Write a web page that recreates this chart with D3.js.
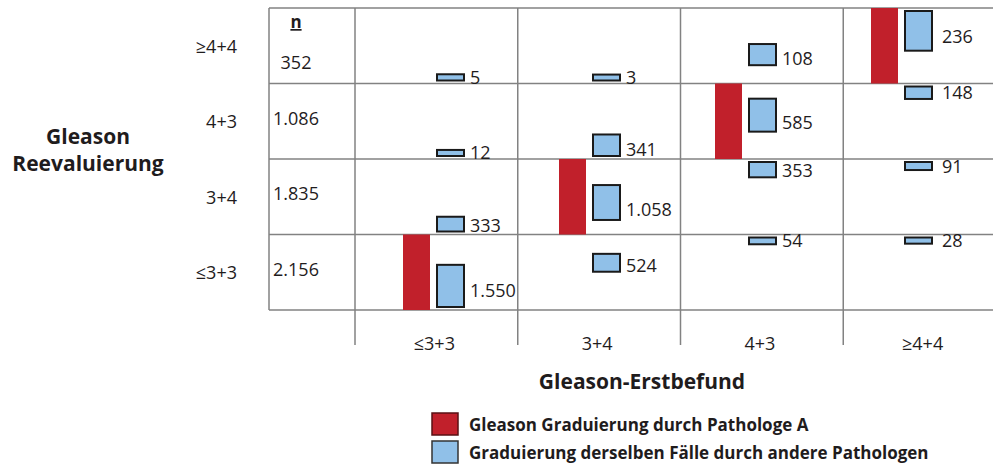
<!DOCTYPE html>
<html>
<head>
<meta charset="utf-8">
<script src="https://cdn.jsdelivr.net/npm/d3@7"></script>
<style>
  body { margin: 0; background: #fff; }
  text { font-family: "Open Sans", sans-serif; fill: #1f1c1d; }
</style>
</head>
<body>
<div id="chart"></div>
<script>
// Gleason categories, low to high
const categories = ["≤3+3", "3+4", "4+3", "≥4+4"];
// n per re-evaluation row (same order as categories)
const rowTotals = [2156, 1835, 1086, 352];
// counts[r][c]: r = Gleason Reevaluierung, c = Gleason-Erstbefund
const counts = [
  [1550, 524, 54, 28],
  [333, 1058, 353, 91],
  [12, 341, 585, 148],
  [5, 3, 108, 236]
];
const legendLabels = [
  "Gleason Graduierung durch Pathologe A",
  "Graduierung derselben Fälle durch andere Pathologen"
];

const W = 993, H = 466;
const RED = "#c1202b", BLUE = "#90c0e8", GRID = "#828282";
const de = d3.formatLocale({ decimal: ",", thousands: ".", grouping: [3], currency: ["", " €"] });
const fmt = de.format(",");

const svg = d3.select("#chart").append("svg")
  .attr("width", W)
  .attr("height", H);

const rowsTopDown = categories.slice().reverse();
const y = d3.scaleBand().domain(rowsTopDown).range([8, 310]);
const x = d3.scaleBand().domain(categories).range([355, 1006]);
const xBar = d3.scalePoint().domain(categories).range([403, 871]);
const hScale = d3.scaleLinear().domain([0, 1]).range([5.5, 56.5]);
const tableLeft = 269, tableBottom = y.range()[1];

// Grid
const grid = svg.append("g").attr("stroke", GRID).attr("stroke-width", 1.5);
rowsTopDown.map(y).concat(tableBottom).forEach(yy => {
  grid.append("line")
    .attr("x1", tableLeft).attr("x2", W)
    .attr("y1", yy).attr("y2", yy);
});
grid.append("line")
  .attr("x1", tableLeft).attr("x2", tableLeft)
  .attr("y1", y.range()[0]).attr("y2", tableBottom);
categories.map(x).concat(x.range()[1]).forEach(xx => {
  grid.append("line")
    .attr("x1", xx).attr("x2", xx)
    .attr("y1", y.range()[0]).attr("y2", tableBottom + 35);
});

// n column
svg.append("text")
  .attr("x", 296).attr("y", 28)
  .attr("text-anchor", "middle")
  .attr("font-size", 17).attr("font-weight", "bold")
  .attr("text-decoration", "underline")
  .text("n");

svg.selectAll(".n-val")
  .data(rowTotals)
  .enter()
  .append("text")
  .attr("class", "n-val")
  .attr("x", 296)
  .attr("y", (d, i) => y(categories[i]) + (i === categories.length - 1 ? 61 : 41))
  .attr("text-anchor", "middle")
  .attr("font-size", 18)
  .text(d => fmt(d));

// Row labels
svg.selectAll(".row-label")
  .data(categories)
  .enter()
  .append("text")
  .attr("class", "row-label")
  .attr("x", 237)
  .attr("y", d => y(d) + y.bandwidth() / 2 + 7)
  .attr("text-anchor", "end")
  .attr("font-size", 18)
  .text(d => d);

// Column labels
svg.selectAll(".col-label")
  .data(categories)
  .enter()
  .append("text")
  .attr("class", "col-label")
  .attr("x", d => x(d) + x.bandwidth() / 2 - 2)
  .attr("y", 350)
  .attr("text-anchor", "middle")
  .attr("font-size", 18)
  .text(d => d);

// Axis titles
const yTitle = svg.append("text")
  .attr("x", 88).attr("y", 144)
  .attr("text-anchor", "middle")
  .attr("font-size", 21).attr("font-weight", "bold");
yTitle.append("tspan").attr("x", 88).text("Gleason");
yTitle.append("tspan").attr("x", 88).attr("dy", 27).text("Reevaluierung");

svg.append("text")
  .attr("x", 642).attr("y", 389)
  .attr("text-anchor", "middle")
  .attr("font-size", 21).attr("font-weight", "bold")
  .text("Gleason-Erstbefund");

// Red bars: Pathologe A, whole Erstbefund column = 100%
svg.selectAll(".red-bar")
  .data(categories)
  .enter()
  .append("rect")
  .attr("class", "red-bar")
  .attr("x", d => xBar(d))
  .attr("y", d => y(d))
  .attr("width", 27)
  .attr("height", y.bandwidth())
  .attr("fill", RED);

// Blue bars: re-evaluation by other pathologists
const cells = counts.flatMap((row, r) => row.map((v, c) => ({ r, c, v })));
const pad = 3;

cells.forEach(d => {
  d.h = hScale(d.v / rowTotals[d.r]);
  const top = y(categories[d.r]);
  const avail = y.bandwidth() - 2 * pad - d.h;
  // bars drift from bottom (left column) to top (right column)
  const align = Math.max(0, Math.min(1, 1 - d.c / 3 + 0.35 * (d.r - d.c)));
  d.y = top + pad + align * avail;
  d.x = xBar(categories[d.c]) + 34;
});

const blue = svg.selectAll(".blue")
  .data(cells)
  .enter()
  .append("g")
  .attr("class", "blue");

blue.append("rect")
  .attr("x", d => d.x)
  .attr("y", d => d.y)
  .attr("width", 27)
  .attr("height", d => d.h)
  .attr("fill", BLUE)
  .attr("stroke", "#1a1a1a")
  .attr("stroke-width", 2);

blue.append("text")
  .attr("x", d => d.x + 27 + (d.c === 3 ? 10 : 6))
  .attr("y", d => d.y + d.h + (d.h < 12 ? 3 : 0) - Math.max(0, d.h - 30) * 0.8)
  .attr("font-size", 18)
  .text(d => fmt(d.v));

// Legend
const legend = svg.selectAll(".legend")
  .data(legendLabels)
  .enter()
  .append("g")
  .attr("class", "legend")
  .attr("transform", (d, i) => `translate(432, ${413 + i * 28})`);

legend.append("rect")
  .attr("width", 26)
  .attr("height", 22)
  .attr("fill", (d, i) => i === 0 ? RED : BLUE)
  .attr("stroke", (d, i) => i === 0 ? "#5a1014" : "#333")
  .attr("stroke-width", 1.5);

legend.append("text")
  .attr("x", 37)
  .attr("y", 18)
  .attr("font-size", 17)
  .attr("font-weight", "bold")
  .text(d => d);
</script>
</body>
</html>
